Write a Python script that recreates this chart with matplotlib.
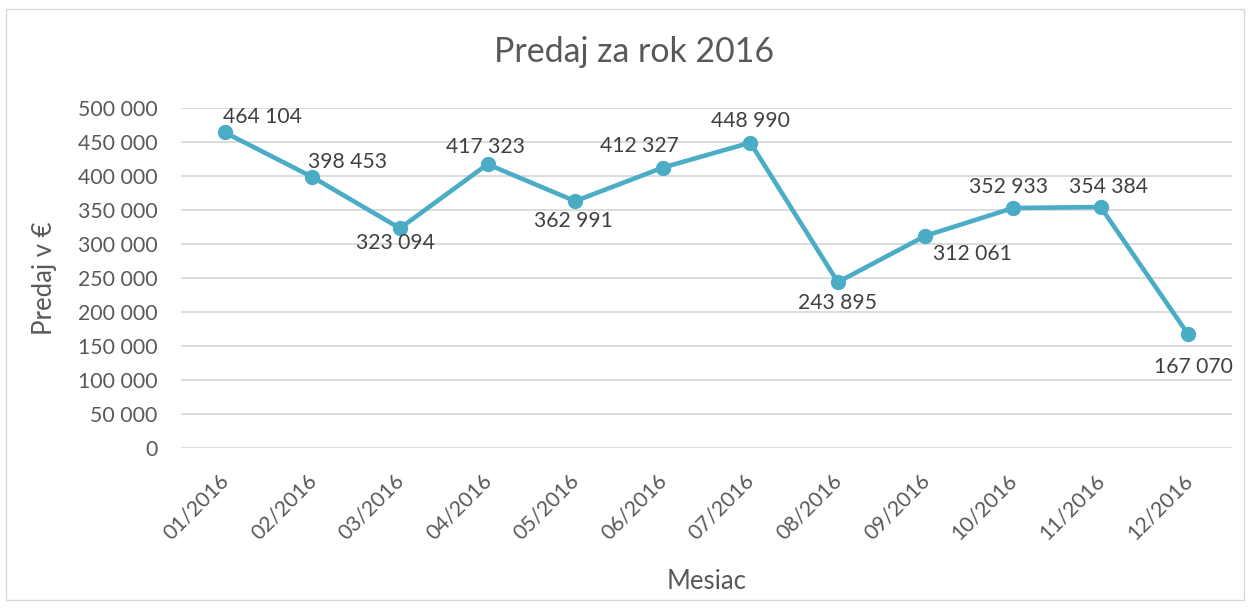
import matplotlib
matplotlib.use("Agg")
import matplotlib.pyplot as plt
from matplotlib.patches import Rectangle
import matplotlib.transforms as mtransforms

months = ["01/2016", "02/2016", "03/2016", "04/2016", "05/2016", "06/2016",
          "07/2016", "08/2016", "09/2016", "10/2016", "11/2016", "12/2016"]
sales = [464104, 398453, 323094, 417323, 362991, 412327,
         448990, 243895, 312061, 352933, 354384, 167070]
yticks = [0, 50000, 100000, 150000, 200000, 250000, 300000, 350000, 400000, 450000, 500000]

# label offsets in pixels (style)
label_offsets = [(38, 15), (35, 15), (-5, -15), (-2, 17), (-2, -20), (-23, 22),
                 (0, 22), (0, -21), (47, -18), (-5, 21), (8, 20), (5, -33)]

def fmt(v):
    return f"{v:,}".replace(",", " ")

plt.rcParams['font.family'] = ['Lato', 'DejaVu Sans']
TXT = '#595959'
DLBL = '#404040'
LINE = '#4bacc6'
GRID = '#d9d9d9'

fig = plt.figure(figsize=(12.51, 6.08), dpi=100)
fig.patches.append(Rectangle((6/1251, 1 - 600/608), (1244-6)/1251, (600-9)/608,
                             transform=fig.transFigure, fill=False,
                             edgecolor=GRID, linewidth=1.0))
ax = fig.add_axes([181/1251, 1 - 448/608, (1232-181)/1251, (448-108)/608])

x = list(range(len(months)))
ax.plot(x, sales, color=LINE, linewidth=3.3, marker='o', markersize=10,
        solid_capstyle='round', zorder=3)

for xi, v, (dx, dy) in zip(x, sales, label_offsets):
    ax.annotate(fmt(v), (xi, v), xytext=(dx, dy), textcoords='offset pixels',
                ha='center', va='center', fontsize=15.2, color=DLBL, zorder=4)

ax.set_xlim(-0.5, len(months) - 0.5)
ax.set_ylim(0, 500000)
ax.set_yticks(yticks)
ax.set_yticklabels([fmt(v) for v in yticks])
ax.set_xticks(x)
ax.set_xticklabels(months, rotation=45, ha='right')

ax.tick_params(axis='both', length=0, labelsize=15.3, labelcolor=TXT)
ax.tick_params(axis='y', pad=17)
ax.tick_params(axis='x', pad=16)

offset = mtransforms.ScaledTranslation(8/100, 0/100, fig.dpi_scale_trans)
for lab in ax.get_xticklabels():
    lab.set_transform(lab.get_transform() + offset)

ax.grid(axis='y', color=GRID, linewidth=1.3)
ax.set_axisbelow(True)
for s in ax.spines.values():
    s.set_visible(False)

ax.set_ylabel("Predaj v €", fontsize=18.5, color=TXT)
ax.yaxis.set_label_coords(57/1251, 1 - 278/608, transform=fig.transFigure)
ax.set_xlabel("Mesiac", fontsize=18.5, color=TXT)
ax.xaxis.set_label_coords(707/1251, 1 - 569/608, transform=fig.transFigure)

fig.text(634/1251, 1 - 52/608, "Predaj za rok 2016", ha='center', va='center',
         fontsize=24.4, color=TXT)

fig.savefig("out.png", dpi=100)
